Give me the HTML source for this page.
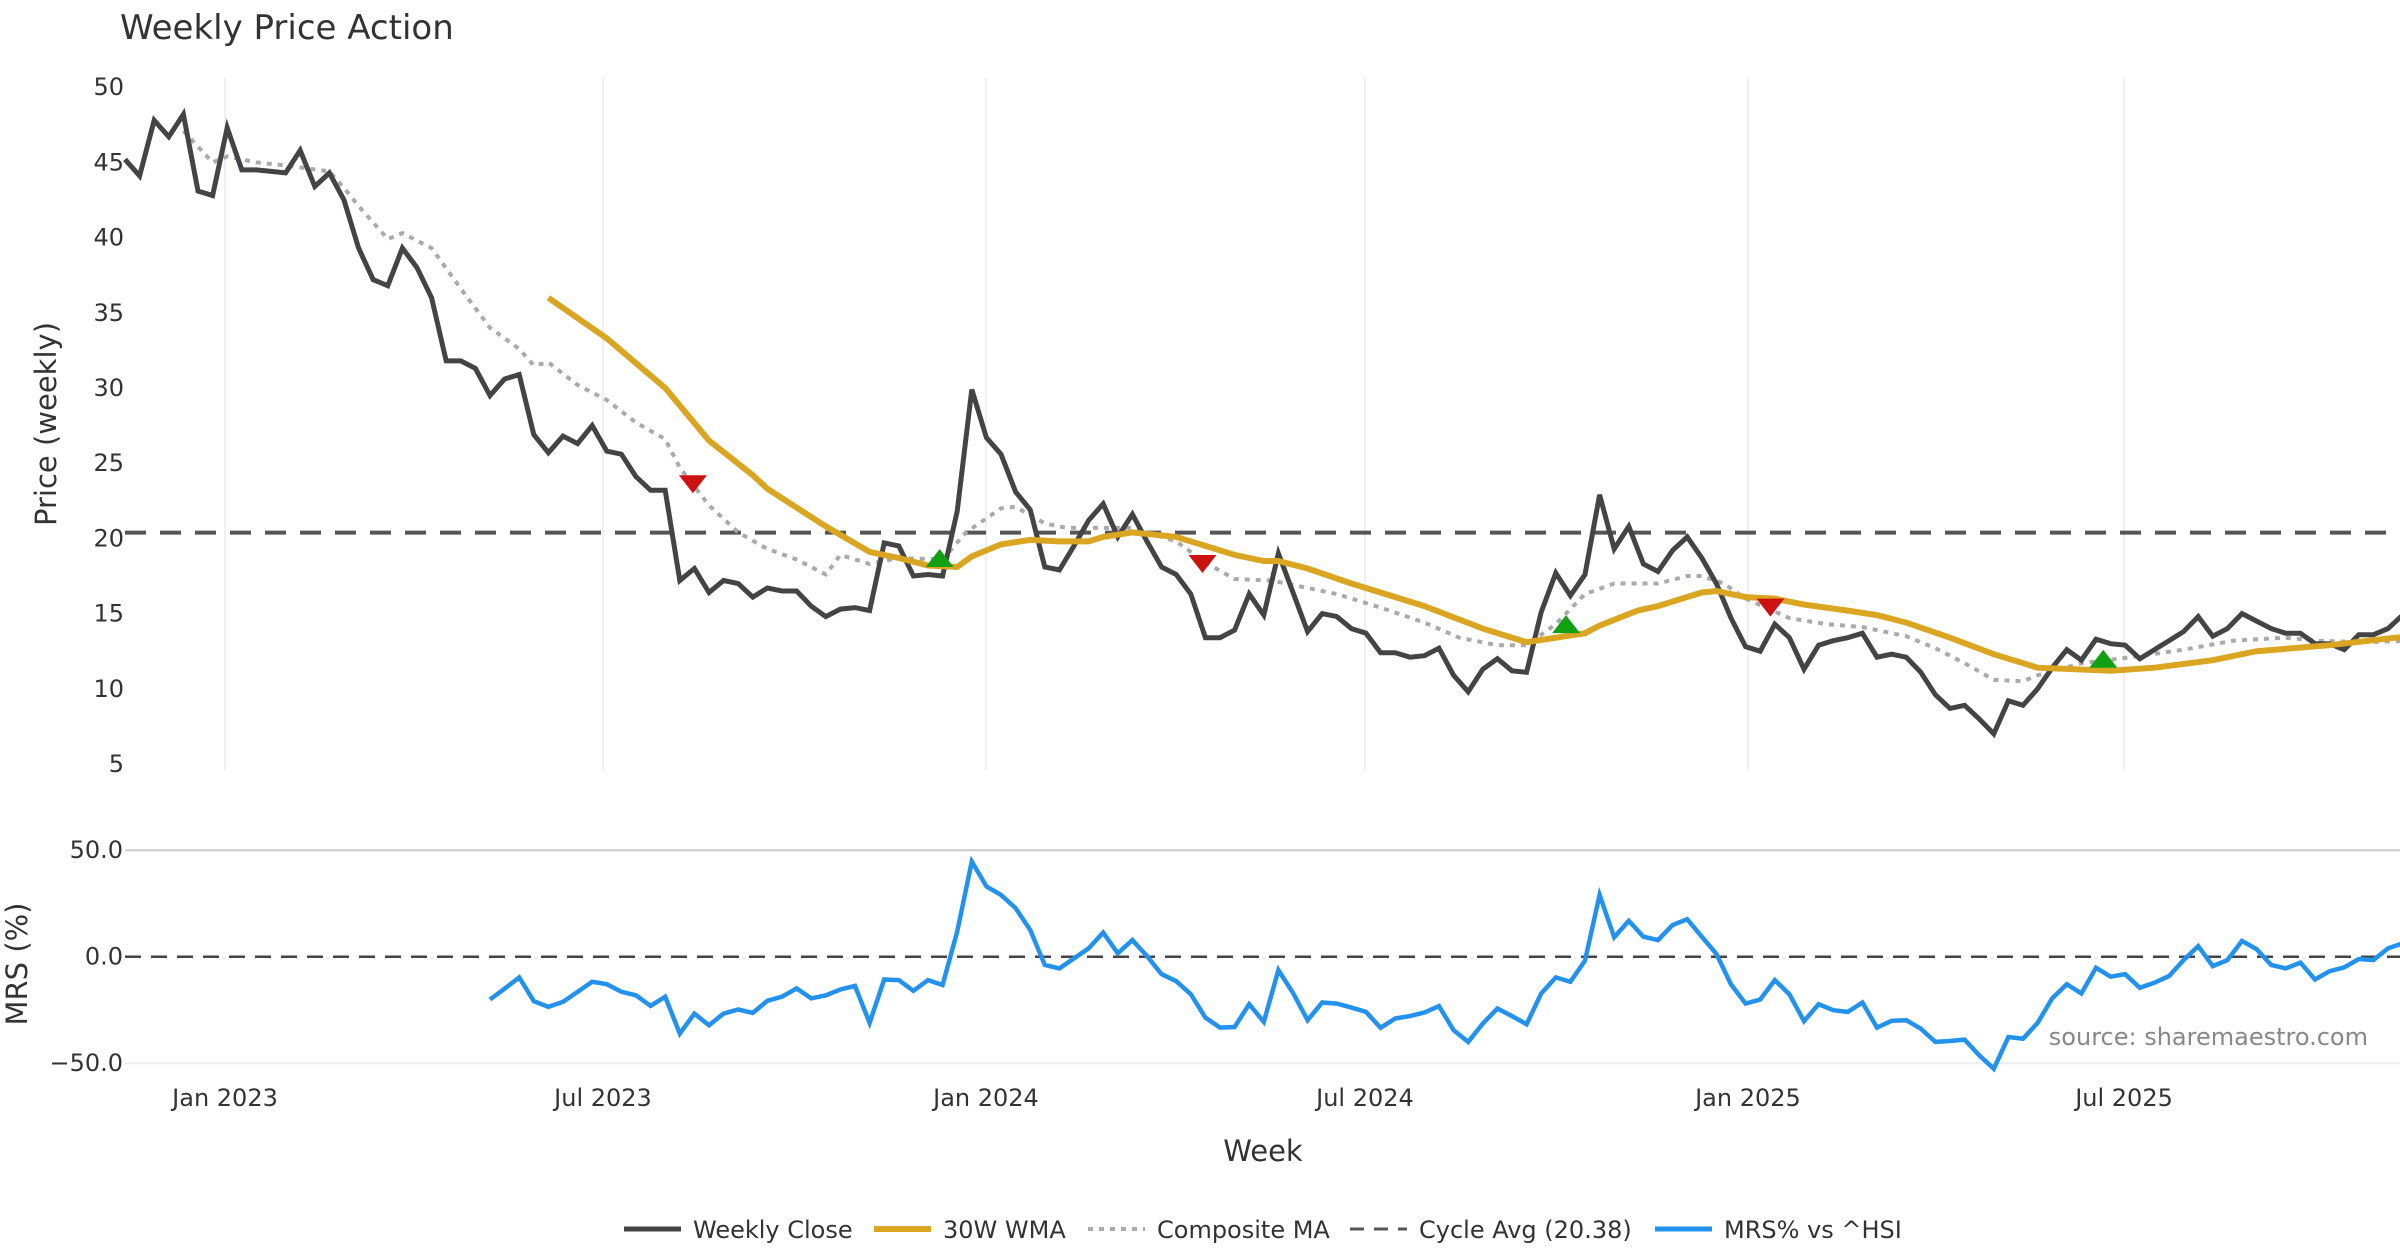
<!DOCTYPE html>
<html><head><meta charset="utf-8">
<style>
html,body{margin:0;padding:0;background:#fff;}
svg{display:block;font-family:"DejaVu Sans","Liberation Sans",sans-serif;}
</style></head>
<body>
<svg id="chart" width="2400" height="1260" viewBox="0 0 2400 1260" xmlns="http://www.w3.org/2000/svg">
<text x="120" y="39" font-size="34" fill="#333">Weekly Price Action</text>
<g id="grid"></g>
<g id="price"></g>
<g id="mrs"></g>
<g id="axes"></g>
<text transform="translate(56,424) rotate(-90)" text-anchor="middle" font-size="29" fill="#333">Price (weekly)</text>
<text transform="translate(27,964) rotate(-90)" text-anchor="middle" font-size="29" fill="#333">MRS (%)</text>
<text x="1263" y="1161" text-anchor="middle" font-size="29" fill="#333">Week</text>
<text x="2368" y="1045" text-anchor="end" font-size="24" fill="#888">source: sharemaestro.com</text>
<g id="legend"></g>
</svg>
<script>
const closeVals=[45.2,44.1,47.8,46.7,48.2,43.1,42.8,47.3,44.5,44.5,44.4,44.3,45.8,43.4,44.3,42.5,39.3,37.2,36.8,39.3,38.0,36.0,31.8,31.8,31.3,29.5,30.6,30.9,26.9,25.7,26.8,26.3,27.5,25.8,25.6,24.1,23.2,23.2,17.2,18.0,16.4,17.2,17.0,16.1,16.7,16.5,16.5,15.5,14.8,15.3,15.4,15.2,19.7,19.5,17.5,17.6,17.5,21.8,29.9,26.7,25.6,23.1,21.9,18.1,17.9,19.5,21.2,22.3,20.1,21.6,19.8,18.1,17.6,16.3,13.4,13.4,13.9,16.3,14.9,19.0,16.4,13.8,15.0,14.8,14.0,13.7,12.4,12.4,12.1,12.2,12.7,10.9,9.8,11.3,12.0,11.2,11.1,15.1,17.7,16.2,17.6,22.9,19.3,20.8,18.3,17.8,19.2,20.1,18.7,17.0,14.7,12.8,12.5,14.3,13.4,11.3,12.9,13.2,13.4,13.7,12.1,12.3,12.1,11.1,9.6,8.7,8.9,8.0,7.0,9.2,8.9,10.0,11.4,12.6,11.9,13.3,13.0,12.9,12.0,12.6,13.2,13.8,14.8,13.5,14.0,15.0,14.5,14.0,13.7,13.7,13.0,13.0,12.6,13.6,13.6,14.0,14.9];
const wmaWeeks=[29,33,37,40,43,44,48,51,53,55,57,58,60,62,64,66,67,69,72,74,76,78,79,81,84,89,93,96,100,101,103.6,105,108,109,111,113,115,118,120,122,125,128,131,136,139,143,146,151,155.5,157];
const wmaVals=[36.0,33.3,30.0,26.5,24.2,23.3,20.8,19.1,18.7,18.2,18.1,18.8,19.6,19.9,19.8,19.8,20.1,20.4,20.1,19.5,18.9,18.5,18.5,18.0,17.0,15.5,14.0,13.1,13.7,14.2,15.2,15.5,16.4,16.5,16.1,16.0,15.6,15.2,14.9,14.4,13.4,12.3,11.4,11.2,11.4,11.9,12.5,12.9,13.4,13.5];
const compWeeks=[4,6,7,9,11,14,15,16,18,19,21,23,25,27,28,29,31,33,35,37,38,40,42,44,46,48,49,51,53,56,57.6,60,61,63,64.5,67,69,72,74,76,78.5,81,83,86,89,91.4,94,96,98,100,102,105,107,108,109.5,111,114,116.5,119,122,124,126,128,130,131,134,137.4,141,144.4,147.9,150.3,153,157];
const compVals=[47.1,45.0,45.4,45.0,44.8,44.4,43.3,42.1,39.9,40.3,39.3,36.6,34.0,32.6,31.5,31.7,30.2,29.2,27.7,26.6,24.7,22.2,20.4,19.3,18.6,17.6,18.9,18.3,18.7,18.6,20.4,22.0,22.1,21.0,20.7,20.7,20.7,19.8,18.4,17.3,17.2,16.7,16.3,15.4,14.4,13.4,12.9,12.9,14.3,16.3,17.0,17.0,17.5,17.5,17.0,16.0,14.7,14.3,14.1,13.5,12.7,11.7,10.6,10.5,10.9,11.7,12.1,12.6,13.2,13.4,13.2,13.1,13.2];
const cycleAvg=20.38;
const mrsStart=25;
const mrsVals=[-20.1,-15,-9.7,-20.9,-23.5,-21.2,-16.5,-11.8,-12.9,-16.5,-18.1,-23.1,-18.8,-36.1,-26.7,-32.2,-26.7,-24.8,-26.4,-20.7,-18.8,-14.9,-19.6,-18.1,-15.4,-13.7,-31.1,-10.7,-11.0,-16.0,-11.0,-13.3,11.8,44.7,33,29,22.8,12.6,-3.9,-5.5,-0.8,3.9,11.3,1.6,7.8,0.3,-8.2,-11.5,-17.6,-28.6,-33.3,-33.0,-22.3,-30.6,-6.3,-17.0,-29.8,-21.5,-22.0,-23.9,-25.9,-33.4,-29.0,-27.9,-26.2,-23.2,-34.5,-40.0,-31.4,-24.3,-27.9,-31.7,-17.3,-9.7,-11.8,-1.9,29.0,9.1,16.8,9.4,7.8,14.9,17.6,9.4,1.3,-13.0,-22.0,-20.1,-11.0,-17.6,-30.3,-22.3,-25.1,-25.9,-21.5,-33.3,-30.1,-29.8,-33.8,-40.0,-39.6,-38.9,-46.3,-52.6,-37.7,-38.5,-31.1,-19.6,-12.9,-17.3,-5.2,-9.4,-8.2,-14.6,-12.2,-9.1,-1.6,5.0,-4.4,-1.6,7.4,3.5,-3.9,-5.5,-2.8,-10.7,-6.8,-5.0,-1.1,-1.6,3.9,6.3];
const sellWeeks=[38.9,73.8,112.7];
const sellVals=[23.6,18.3,15.4];
const buyWeeks=[55.8,98.7,135.5];
const buyVals=[18.7,14.3,12.0];
const priceTicks=[5,10,15,20,25,30,35,40,45,50];
const mrsTicks=[-50,0,50];
const mrsTickLabels=["\u221250.0","0.0","50.0"];
const dateTickWeeks=[6.85,32.74,58.97,84.93,111.16,136.92];
const dateTickLabels=["Jan 2023","Jul 2023","Jan 2024","Jul 2024","Jan 2025","Jul 2025"];

const NS="http://www.w3.org/2000/svg";
const X0=125,DX=14.60;
const X=w=>X0+w*DX;
const YP=v=>764-(v-5)*15.04;
const YM=v=>956.7-v*2.13;
function mk(tag,attrs,parent){const e=document.createElementNS(NS,tag);for(const k in attrs)e.setAttribute(k,attrs[k]);parent.appendChild(e);return e;}
const grid=document.getElementById('grid'),price=document.getElementById('price'),mrs=document.getElementById('mrs'),axes=document.getElementById('axes'),legend=document.getElementById('legend');

dateTickWeeks.forEach((w,i)=>{
  const gx=X(w);
  const l=mk('line',{x1:gx,x2:gx,y1:78,y2:770,stroke:'#e8ebf0','stroke-width':1.5},grid);
  
  
  const t=mk('text',{x:gx,y:1106,'text-anchor':'middle','font-size':24,fill:'#333'},axes);
  t.textContent=dateTickLabels[i];
  
  
});
priceTicks.forEach(v=>{
  const t=mk('text',{x:124,y:YP(v)+8,'text-anchor':'end','font-size':24,fill:'#333'},axes);
  t.textContent=String(v);
  
  
});
mrsTicks.forEach((v,i)=>{
  if(v!==0){const g=mk('line',{x1:125,x2:2400,y1:YM(v),y2:YM(v),stroke:v>0?'#ccc':'#eceff2','stroke-width':2},grid);
  
  }
  const t=mk('text',{x:123,y:YM(v)+8,'text-anchor':'end','font-size':24,fill:'#333'},axes);
  t.textContent=mrsTickLabels[i];
  
  
});
function path(ws,vs,yf){return ws.map((w,i)=>(i?'L':'M')+X(w).toFixed(1)+' '+yf(vs[i]).toFixed(1)).join(' ');}
const idx=closeVals.map((_,i)=>i);
const cyc=mk('line',{x1:125,x2:2400,y1:YP(cycleAvg),y2:YP(cycleAvg),stroke:'#555','stroke-width':4,'stroke-dasharray':'21 14'},price);


const comp=mk('path',{d:path(compWeeks,compVals,YP),fill:'none',stroke:'#aaa','stroke-width':4,'stroke-dasharray':'5 6'},price);


const cl=mk('path',{d:path(idx,closeVals,YP),fill:'none',stroke:'#444','stroke-width':5,'stroke-linejoin':'miter'},price);


const wma=mk('path',{d:path(wmaWeeks,wmaVals,YP),fill:'none',stroke:'#DAA520','stroke-width':6},price);


sellWeeks.forEach((w,i)=>{const x=X(w),y=YP(sellVals[i]);
  const p=mk('polygon',{points:`${x-14},${y-9} ${x+14},${y-9} ${x},${y+9}`,fill:'#cc1111'},price);
  
  });
buyWeeks.forEach((w,i)=>{const x=X(w),y=YP(buyVals[i]);
  const p=mk('polygon',{points:`${x-14},${y+9} ${x+14},${y+9} ${x},${y-9}`,fill:'#11a011'},price);
  
  });
const z=mk('line',{x1:125,x2:2400,y1:YM(0),y2:YM(0),stroke:'#444','stroke-width':2.5,'stroke-dasharray':'16 10'},mrs);


const mw=mrsVals.map((_,i)=>mrsStart+i);
const ml=mk('path',{d:path(mw,mrsVals,YM),fill:'none',stroke:'#2391ee','stroke-width':4.5},mrs);



const legItems=[
 {x:624,label:'Weekly Close',stroke:'#444',dash:'',w:5,name:'legend-weekly-close'},
 {x:874,label:'30W WMA',stroke:'#DAA520',dash:'',w:6,name:'legend-30w-wma'},
 {x:1088,label:'Composite MA',stroke:'#aaa',dash:'5 6',w:4,name:'legend-composite-ma'},
 {x:1350,label:'Cycle Avg (20.38)',stroke:'#555',dash:'14 10',w:3,name:'legend-cycle-avg'},
 {x:1655,label:'MRS% vs ^HSI',stroke:'#2391ee',dash:'',w:5,name:'legend-mrs'}];
legItems.forEach(it=>{
  const g=mk('g',{},legend);
  
  
  mk('line',{x1:it.x,x2:it.x+57,y1:1229,y2:1229,stroke:it.stroke,'stroke-width':it.w,'stroke-dasharray':it.dash},g);
  const t=mk('text',{x:it.x+69,y:1238,'font-size':24,fill:'#333'},g);
  t.textContent=it.label;
});
</script>
</body></html>
